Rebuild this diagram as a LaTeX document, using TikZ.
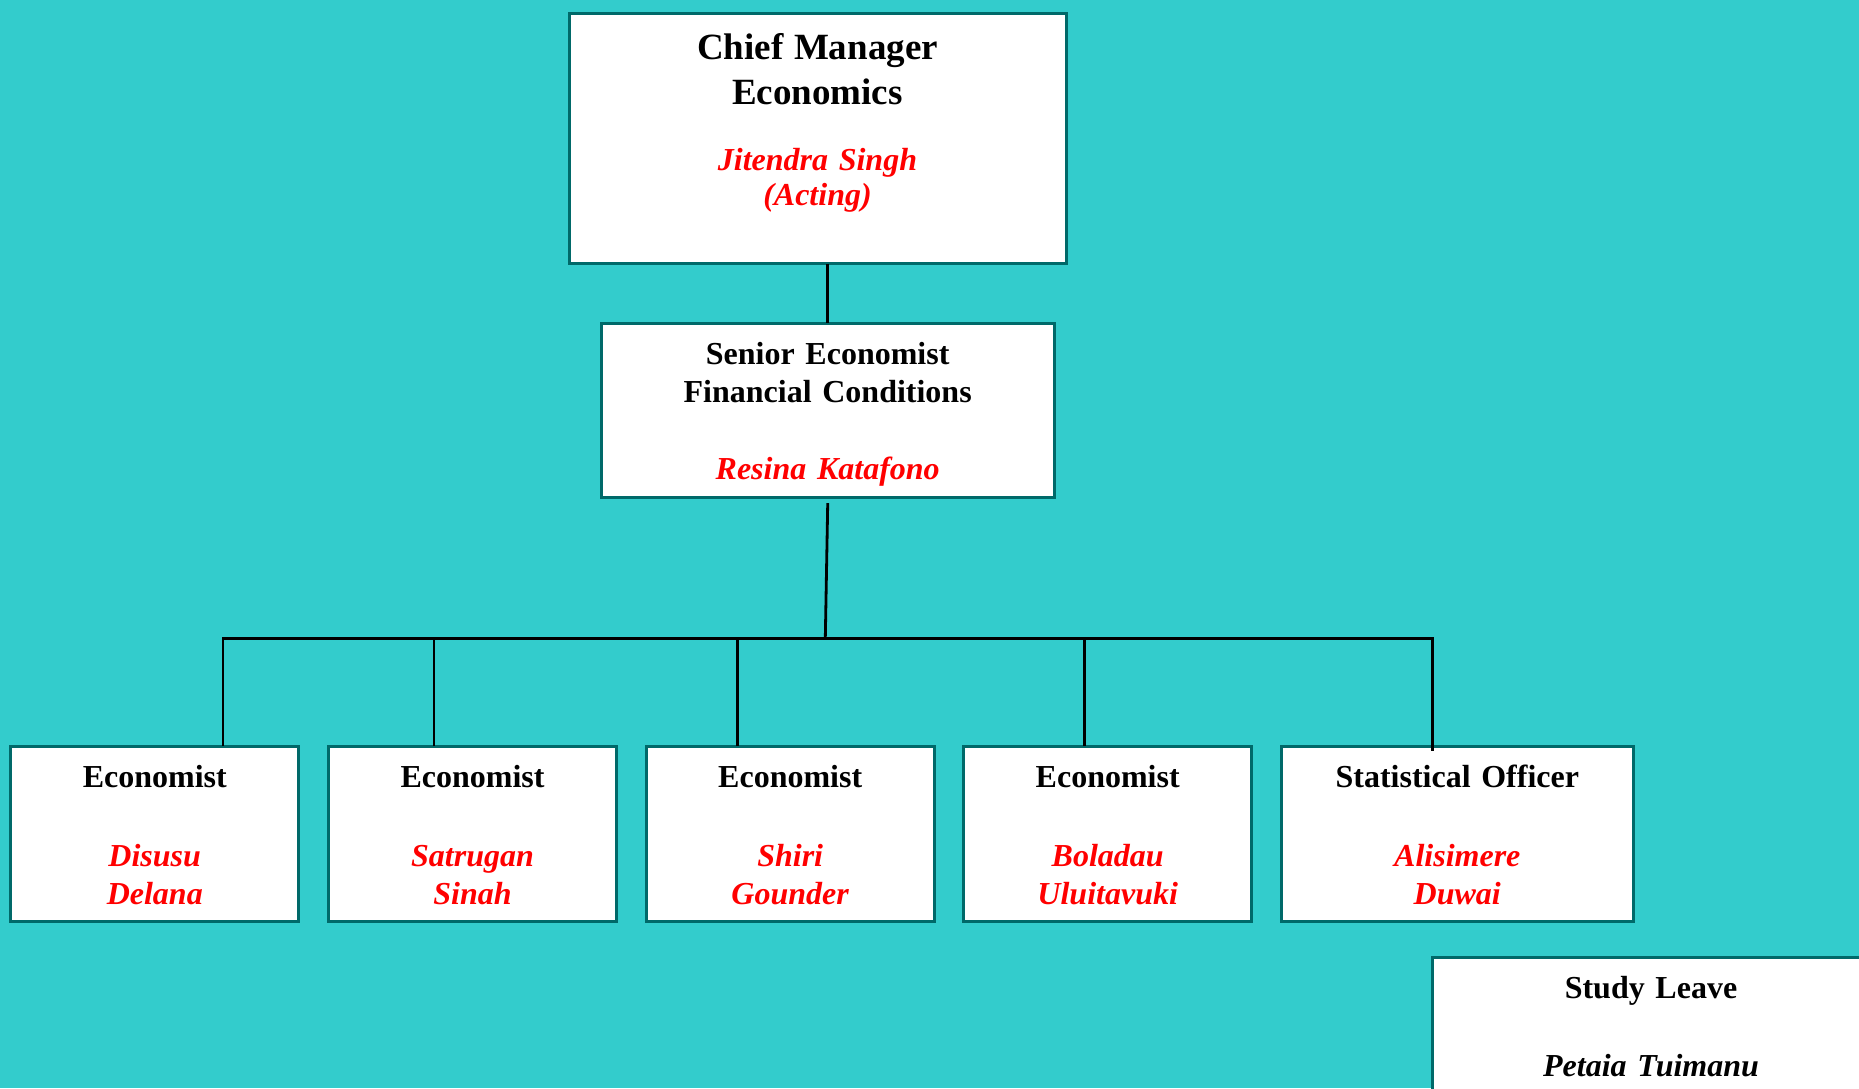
\documentclass[tikz,border=0pt]{standalone}
\usepackage{fontspec}
\setmainfont{Liberation Serif}
\usepackage{tikz}
\usetikzlibrary{positioning}
\definecolor{sea}{RGB}{51,204,204}
\definecolor{rim}{RGB}{0,105,105}
\newcommand{\who}[1]{\textcolor{red}{\textit{#1}}}

\begin{document}
\begin{tikzpicture}[x=0.5pt,y=-0.5pt]
\tikzstyle{post}=[rectangle, draw=rim, fill=white, line width=1.5pt, inner sep=0pt, anchor=north, align=center, font=\fontsize{16}{19}\selectfont\bfseries]
\tikzstyle{rank}=[post, text width=144pt, text height=20.35pt, text depth=66.9pt]
\tikzstyle{connect}=[line width=1.4pt, line cap=rect]

	\path[use as bounding box, clip] (0,0) rectangle (1859,1088);
	\fill[sea] (0,0) rectangle (1859,1088);

	\pgfmathsetmacro{\busy}{638.3};
	\pgfmathsetmacro{\rowy}{745};

	\node[post, text width=248.5pt, text height=23pt, text depth=102pt, font=\fontsize{16}{17.8}\selectfont\bfseries] (chief) at (817.5,12)
		{{\fontsize{18.5}{22.5}\selectfont Chief Manager\\[4.7pt]Economics}\\[15pt]\who{Jitendra Singh}\\\who{(Acting)}};
	\node[post, text width=226.5pt, text height=20.8pt, text depth=66.35pt] (senior) at (827.7,321.7)
		{Senior Economist\\Financial Conditions\\[19.5pt]\who{Resina Katafono}};

	\node[rank] (eco1) at (154.75,\rowy) {Economist\\[20.5pt]\who{Disusu}\\\who{Delana}};
	\node[rank] (eco2) at (472.5,\rowy) {Economist\\[20.5pt]\who{Satrugan}\\\who{Sinah}};
	\node[rank] (eco3) at (790.2,\rowy) {Economist\\[20.5pt]\who{Shiri}\\\who{Gounder}};
	\node[rank] (eco4) at (1107.7,\rowy) {Economist\\[20.5pt]\who{Boladau}\\\who{Uluitavuki}};
	\node[rank, text width=176pt] (stat) at (1457.3,\rowy) {Statistical Officer\\[20.5pt]\who{Alisimere}\\\who{Duwai}};

	\node[post, text width=219pt, text height=20.8pt, text depth=80pt] (study) at (1651,955.7)
		{Study Leave\\[20pt]\textit{Petaia Tuimanu}};

	\coordinate (hub) at (825.3,\busy);
	\coordinate (b1) at (222.9,\busy);
	\coordinate (b2) at (433.9,\busy);
	\coordinate (b3) at (737.2,\busy);
	\coordinate (b4) at (1084.6,\busy);
	\coordinate (b5) at (1432.2,\busy);

	\path
		(senior.north) edge [connect] (senior.north |- chief.south)
		([yshift=-2.8pt]senior.south) edge [connect] (hub)
		(b1) edge [connect] (b5)
		(b1) edge [connect] (b1 |- eco1.north)
		(b2) edge [connect] (b2 |- eco2.north)
		(b3) edge [connect] (b3 |- eco3.north)
		(b4) edge [connect] (b4 |- eco4.north)
		(b5) edge [connect] ([yshift=-2.5pt]b5 |- stat.north);

\end{tikzpicture}
\end{document}
